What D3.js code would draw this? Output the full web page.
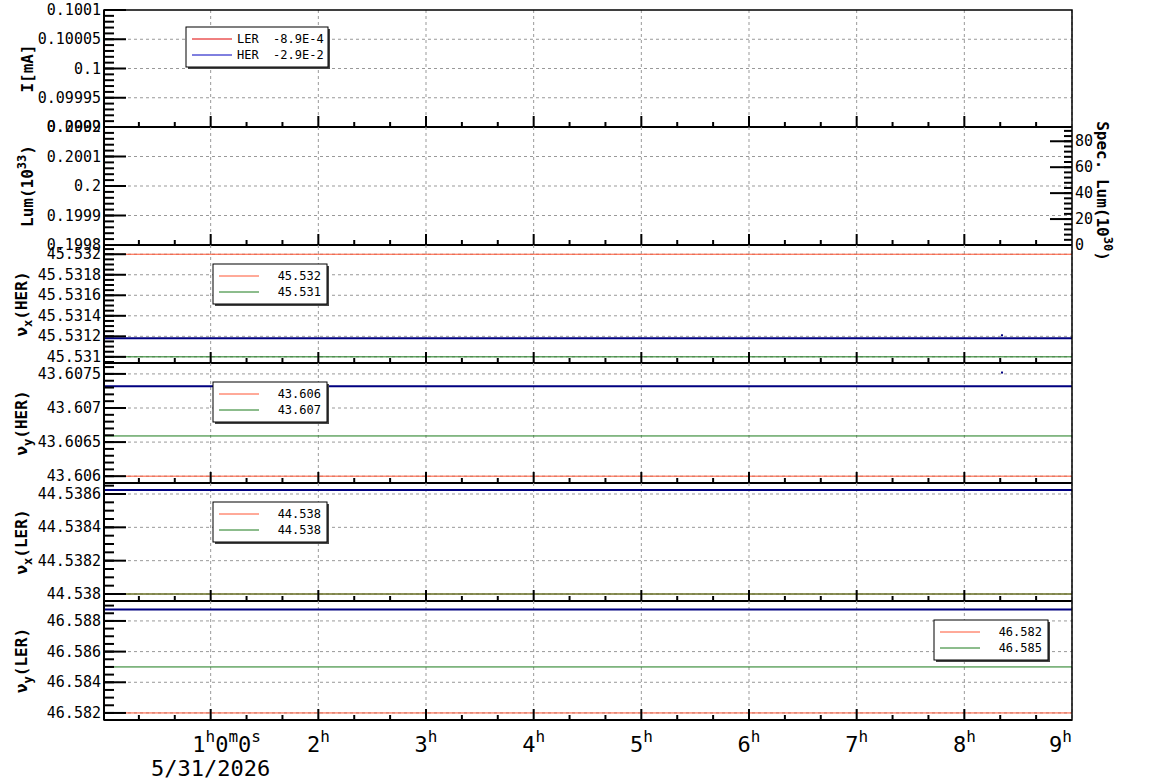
<!DOCTYPE html>
<html><head><meta charset="utf-8">
<script src="https://cdn.jsdelivr.net/npm/d3@7"></script>
<style>
body{margin:0;background:#fff}
text{font-family:"DejaVu Sans Mono",monospace}
.grid line{stroke:#999;stroke-dasharray:3,3;stroke-width:1}
</style></head><body>
<script>
const hours = [1, 2, 3, 4, 5, 6, 7, 8, 9];
const hourLabels = ["1", "2", "3", "4", "5", "6", "7", "8", "9"];
const dateLabel = "5/31/2026";
const spanTimes = [0, 9];

const panelLabels = ["I[mA]", "Lum", "νx(HER)", "νy(HER)", "νx(LER)", "νy(LER)"];
const panelDomains = [
  [0.0999, 0.1001], [0.1998, 0.2002], [45.53094, 45.53209],
  [43.6059, 43.60766], [44.537958, 44.538666], [46.58154, 46.5893]
];
const panelTicks = [
  [0.0999, 0.09995, 0.1, 0.10005, 0.1001], [0.1998, 0.1999, 0.2, 0.2001, 0.2002],
  [45.531, 45.5312, 45.5314, 45.5316, 45.5318, 45.532],
  [43.606, 43.6065, 43.607, 43.6075],
  [44.538, 44.5382, 44.5384, 44.5386],
  [46.582, 46.584, 46.586, 46.588]
];
const tickText = [
  ["0.0999", "0.09995", "0.1", "0.10005", "0.1001"], ["0.1998", "0.1999", "0.2", "0.2001", "0.2002"],
  ["45.531", "45.5312", "45.5314", "45.5316", "45.5318", "45.532"],
  ["43.606", "43.6065", "43.607", "43.6075"],
  ["44.538", "44.5382", "44.5384", "44.5386"],
  ["46.582", "46.584", "46.586", "46.588"]
];
const minorDiv = [5, 5, 4, 5, 4, 4];
const redVals = [null, null, 45.532, 43.606, 44.538, 46.582];
const greenVals = [null, null, 45.531, 43.60659, 44.538, 46.585];
const blueVals = [null, null, 45.53118, 43.60732, 44.538624, 46.58874];
const blueDots = [[2, 8.35, 45.53121], [3, 8.35, 43.60752]];
const legendI = [["LER", "-8.9E-4", "#e00000"], ["HER", "-2.9E-2", "#0000c0"]];
const legendTunes = [null, null, ["45.532", "45.531"], ["43.606", "43.607"], ["44.538", "44.538"], ["46.582", "46.585"]];
const specTicks = [0, 20, 40, 60, 80];
const specDomain = [0, 91];

const W = 1154, H = 782, L = 104, R = 1072;
const tops = [10, 127, 245, 363, 483, 601, 720];
const RED = "#ff5533", GREEN = "#1a7a1a", BLUE = "#000080";

const svg = d3.select("body").append("svg").attr("width", W).attr("height", H);
const x = d3.scaleLinear().domain([0, 9]).range([103, R]);

panelDomains.forEach((dom, i) => {
  const y0 = tops[i], y1 = tops[i + 1];
  const y = d3.scaleLinear().domain(dom).range([y1, y0]);
  const g = svg.append("g");
  const ticks = panelTicks[i];
  const grid = g.append("g").attr("class", "grid");
  grid.selectAll("line.v").data(hours).join("line")
    .attr("x1", d => x(d)).attr("x2", d => x(d)).attr("y1", y0).attr("y2", y1);
  grid.selectAll("line.h").data(ticks.filter(t => y(t) > y0 + 2 && y(t) < y1 - 2)).join("line")
    .attr("x1", L).attr("x2", R).attr("y1", d => y(d)).attr("y2", d => y(d));
  const line = d3.line().x(d => x(d[0])).y(d => y(d[1]));
  [[redVals[i], RED, 1], [greenVals[i], GREEN, 1], [blueVals[i], BLUE, 2]].forEach(([v, c, w]) => {
    if (v == null) return;
    g.append("path").datum(spanTimes.map(t => [t, v])).attr("d", line)
      .attr("stroke", c).attr("stroke-width", w).attr("fill", "none");
  });
  blueDots.filter(d => d[0] === i).forEach(d => {
    g.append("rect").attr("x", x(d[1]) - 1).attr("y", y(d[2]) - 1).attr("width", 2).attr("height", 2).attr("fill", BLUE);
  });
  // left axis minor ticks
  const step = (ticks[1] - ticks[0]) / minorDiv[i];
  const minor = d3.range(-30, 60).map(k => ticks[0] + k * step).filter(v => y(v) >= y0 + 1 && y(v) <= y1 - 1);
  g.selectAll("line.mn").data(minor).join("line")
    .attr("x1", L).attr("x2", L + 10).attr("y1", d => y(d)).attr("y2", d => y(d)).attr("stroke", "#000").attr("stroke-width", 2);
  g.selectAll("line.mj").data(ticks).join("line")
    .attr("x1", L).attr("x2", L + 22).attr("y1", d => y(d)).attr("y2", d => y(d)).attr("stroke", "#000").attr("stroke-width", 2);
  g.selectAll("text.tk").data(ticks).join("text")
    .attr("x", L - 3).attr("y", d => y(d) + 5).attr("text-anchor", "end").attr("font-size", 15).text((d, k) => tickText[i][k]);
  const xt = d3.range(1, 27).map(k => k / 3);
  g.selectAll("line.xt").data(xt).join("line")
    .attr("x1", d => x(d)).attr("x2", d => x(d)).attr("y1", y1)
    .attr("y2", (d, k) => (k + 1) % 3 === 0 ? y1 - 11 : y1 - 5).attr("stroke", "#000").attr("stroke-width", 2);
  g.append("line").attr("x1", L).attr("x2", R).attr("y1", y1).attr("y2", y1).attr("stroke", "#000").attr("stroke-width", 2);
  const lab = g.append("text").attr("transform", `translate(${i < 2 ? 33 : 27},${(y0 + y1) / 2}) rotate(-90)`)
    .attr("text-anchor", "middle").attr("font-size", 16).attr("font-weight", "bold");
  const name = panelLabels[i];
  if (name.startsWith("ν")) {
    lab.append("tspan").text("ν");
    lab.append("tspan").attr("dy", 5).attr("font-size", 12).text(name[1]);
    lab.append("tspan").attr("dy", -5).text(name.slice(2));
  } else if (name === "Lum") {
    lab.text("Lum(10");
    lab.append("tspan").attr("dy", -7).attr("font-size", 12).text("33");
    lab.append("tspan").attr("dy", 7).text(")");
  } else lab.text(name);
  if (i === 1) {
    const ys = d3.scaleLinear().domain(specDomain).range([y1, y0]);
    g.selectAll("line.sm").data(d3.range(0, 91, 4)).join("line")
      .attr("x1", R).attr("x2", R - 8).attr("y1", d => ys(d)).attr("y2", d => ys(d)).attr("stroke", "#000").attr("stroke-width", 2);
    g.selectAll("line.sj").data(specTicks).join("line")
      .attr("x1", R).attr("x2", R - 22).attr("y1", d => ys(d)).attr("y2", d => ys(d)).attr("stroke", "#000").attr("stroke-width", 2);
    g.selectAll("text.st").data(specTicks).join("text")
      .attr("x", R + 3).attr("y", d => ys(d) + 5).attr("font-size", 15).text(d => d);
    const sl = g.append("text").attr("transform", `translate(1097,${(y0 + y1) / 2 + 5}) rotate(90)`)
      .attr("text-anchor", "middle").attr("font-size", 16).attr("font-weight", "bold").text("Spec. Lum(10");
    sl.append("tspan").attr("dy", -7).attr("font-size", 12).text("30");
    sl.append("tspan").attr("dy", 7).text(")");
  }
  let items = null, lx = 186, ly = y0 + 17, lw = 142;
  if (i === 0) items = legendI.map(d => [d[0] + "  " + d[1], d[2]]);
  else if (legendTunes[i]) {
    items = [[legendTunes[i][0], RED], [legendTunes[i][1], GREEN]];
    lx = i === 5 ? 934 : 213; ly = y0 + 19; lw = 114;
  }
  if (items) {
    g.append("rect").attr("x", lx + 2).attr("y", ly + 2).attr("width", lw).attr("height", 40).attr("fill", "#444");
    g.append("rect").attr("x", lx).attr("y", ly).attr("width", lw).attr("height", 40).attr("fill", "#fff").attr("stroke", "#000");
    items.forEach((it, k) => {
      const yy = ly + 12 + k * 16;
      g.append("line").attr("x1", lx + 6).attr("x2", lx + 46).attr("y1", yy).attr("y2", yy).attr("stroke", it[1]);
      g.append("text").attr("x", i === 0 ? lx + 51 : lx + lw - 6).attr("y", yy + 4)
        .attr("text-anchor", i === 0 ? "start" : "end").attr("font-size", 12).attr("xml:space", "preserve").text(it[0]);
    });
  }
});
svg.append("rect").attr("x", L).attr("y", 10).attr("width", R - L).attr("height", 710).attr("fill", "none").attr("stroke", "#000").attr("stroke-width", 1.5);
svg.append("line").attr("x1", L).attr("x2", L).attr("y1", 10).attr("y2", 720).attr("stroke", "#000").attr("stroke-width", 2);
const xl = svg.append("g");
hours.forEach((h, k) => {
  const t = xl.append("text").attr("x", k === 0 ? x(h) + 16 : x(h)).attr("y", 752).attr("text-anchor", k === 8 ? "end" : "middle").attr("font-size", 22);
  t.append("tspan").text(hourLabels[k]);
  t.append("tspan").attr("dy", -10).attr("font-size", 16).text("h");
  if (k === 0) {
    t.append("tspan").attr("dy", 10).text("0");
    t.append("tspan").attr("dy", -10).attr("font-size", 16).text("m");
    t.append("tspan").attr("dy", 10).text("0");
    t.append("tspan").attr("dy", -10).attr("font-size", 16).text("s");
  }
});
xl.append("text").attr("x", x(1)).attr("y", 776).attr("text-anchor", "middle").attr("font-size", 22).text(dateLabel);
</script></body></html>
